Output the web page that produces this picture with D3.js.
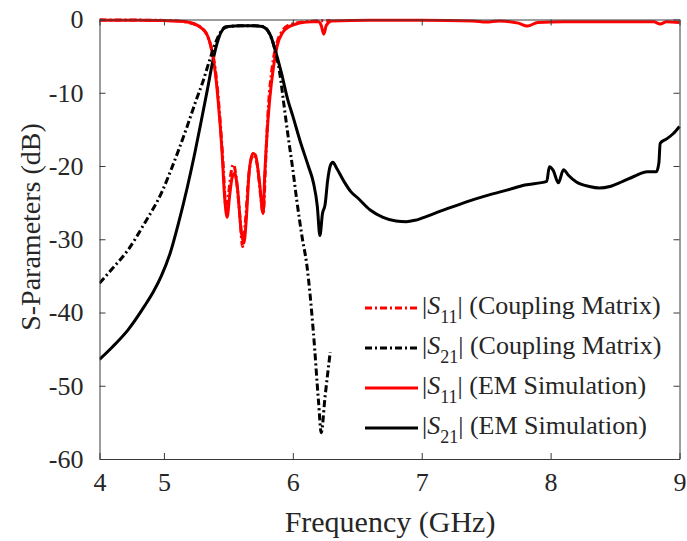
<!DOCTYPE html>
<html>
<head>
<meta charset="utf-8">
<script src="https://cdn.jsdelivr.net/npm/d3@7"></script>
<style>
  html, body { margin: 0; padding: 0; background: #fff; }
  svg text { font-family: "Times New Roman", "Liberation Serif", Tinos, "DejaVu Serif", serif; fill: #262626; }
</style>
</head>
<body>
<svg id="chart" width="687" height="541"></svg>
<script>
// ---- Data (frequency in GHz, magnitude in dB) ----
const emS21Freq = [4.5, 4.6, 4.72, 4.85, 4.92, 4.98, 5.05, 5.11, 5.18, 5.24, 5.3, 5.34, 5.38, 5.42, 5.46, 5.5, 5.6, 5.7, 5.76, 5.8, 5.83, 5.86, 5.91, 5.96, 6.0, 6.06, 6.12, 6.16, 6.19, 6.21, 6.23, 6.25, 6.27, 6.29, 6.31, 6.34, 6.4, 6.45, 6.5, 6.6, 6.7, 6.8, 6.88, 6.95, 7.05, 7.14, 7.3, 7.4, 7.55, 7.66, 7.8, 7.97, 7.99, 8.02, 8.06, 8.1, 8.14, 8.2, 8.3, 8.38, 8.46, 8.56, 8.65, 8.75, 8.82, 8.84, 8.85, 8.9, 8.95, 9.0];
const emS21dB   = [-46.4, -44.7, -42.4, -39.1, -37.1, -35.0, -31.8, -28.0, -23.0, -18.2, -12.9, -9.3, -5.6, -2.8, -1.3, -0.95, -0.85, -0.85, -0.95, -1.4, -2.3, -4.0, -7.2, -10.9, -13.2, -16.8, -20.0, -22.3, -25.5, -29.5, -26.5, -25.3, -22.0, -20.0, -19.5, -20.3, -22.2, -23.5, -24.3, -26.0, -27.0, -27.5, -27.6, -27.4, -26.8, -26.2, -25.2, -24.6, -23.8, -23.3, -22.6, -22.1, -20.1, -20.6, -22.3, -20.5, -21.3, -22.2, -22.8, -23.0, -22.8, -22.1, -21.4, -20.8, -20.8, -19.6, -16.9, -16.3, -15.6, -14.6];

const cmS21Freq = [4.5, 4.6, 4.72, 4.85, 4.98, 5.06, 5.11, 5.18, 5.25, 5.3, 5.35, 5.4, 5.44, 5.48, 5.6, 5.7, 5.78, 5.82, 5.86, 5.9, 5.93, 5.96, 6.0, 6.03, 6.07, 6.11, 6.16, 6.2, 6.22, 6.25, 6.29];
const cmS21dB   = [-36.0, -34.0, -31.5, -27.8, -23.7, -20.3, -18.0, -14.6, -11.0, -8.6, -5.8, -3.2, -1.7, -1.0, -0.85, -0.85, -1.0, -2.0, -4.0, -7.5, -11.5, -15.5, -20.5, -24.6, -29.5, -33.7, -42.8, -52.3, -56.4, -51.5, -45.4];

const emS11Freq = [4.5, 4.8, 5.0, 5.1, 5.2, 5.26, 5.3, 5.33, 5.36, 5.38, 5.4, 5.42, 5.45, 5.47, 5.49, 5.51, 5.53, 5.55, 5.57, 5.6, 5.62, 5.64, 5.66, 5.69, 5.71, 5.74, 5.77, 5.78, 5.8, 5.82, 5.85, 5.88, 5.92, 5.97, 6.05, 6.15, 6.2, 6.22, 6.24, 6.26, 6.3, 6.6, 7.0, 7.4, 7.5, 7.6, 7.75, 7.82, 7.9, 8.1, 8.5, 8.8, 8.85, 8.9, 9.0];
const emS11dB   = [-0.1, -0.1, -0.15, -0.2, -0.4, -0.8, -1.3, -1.9, -3.4, -5.1, -7.5, -11.0, -17.8, -24.0, -27.0, -24.0, -21.5, -21.0, -23.0, -29.0, -30.5, -27.0, -21.0, -18.3, -18.5, -22.0, -26.5, -22.0, -15.5, -11.0, -6.5, -3.5, -1.8, -1.0, -0.5, -0.3, -0.3, -0.8, -2.0, -0.8, -0.2, -0.1, -0.1, -0.2, -0.35, -0.2, -0.5, -0.9, -0.4, -0.3, -0.3, -0.3, -0.6, -0.3, -0.4];

const cmS11Freq = [4.5, 4.8, 5.0, 5.1, 5.2, 5.28, 5.33, 5.37, 5.4, 5.43, 5.46, 5.48, 5.5, 5.52, 5.54, 5.56, 5.59, 5.61, 5.63, 5.66, 5.69, 5.72, 5.75, 5.77, 5.79, 5.81, 5.84, 5.88, 5.92, 5.98, 6.1, 6.2, 6.29];
const cmS11dB   = [-0.05, -0.08, -0.12, -0.2, -0.45, -1.0, -2.0, -4.0, -7.0, -12.5, -20.0, -25.5, -24.0, -21.0, -19.8, -21.5, -27.0, -31.0, -28.0, -21.0, -18.5, -19.5, -24.0, -26.5, -19.0, -12.0, -6.5, -3.0, -1.5, -0.7, -0.3, -0.2, -0.15];

const xTickValues = [4.5, 5, 6, 7, 8, 9];
const xTickLabels = ["4", "5", "6", "7", "8", "9"];
const yTickValues = [0, -10, -20, -30, -40, -50, -60];
const yTickLabels = ["0", "-10", "-20", "-30", "-40", "-50", "-60"];

const legendNames = ["(Coupling Matrix)", "(Coupling Matrix)", "(EM Simulation)", "(EM Simulation)"];
const legendSubs  = ["11", "21", "11", "21"];
const legendColors = ["#ff0000", "#000000", "#ff0000", "#000000"];
const legendDashed = [true, true, false, false];

// ---- Layout ----
const FONT = '"Times New Roman", "Liberation Serif", Tinos, "DejaVu Serif", serif';
const svg = d3.select("#chart");
const L = 99.5, R = 679.5, T = 19.5, B = 459;
const x = d3.scaleLinear().domain([4.5, 9]).range([L, R]);
const y = d3.scaleLinear().domain([-60, 0]).range([B, T]);
const axisColor = "#3a3a3a";
const dash = "7,3,2,3";

const g = svg.append("g");

svg.append("defs").append("clipPath").attr("id", "clip")
  .append("rect").attr("x", L).attr("y", T - 3).attr("width", R - L + 3).attr("height", B - T + 3);

function series(fr, db) { return fr.map((f, i) => [f, db[i]]); }
const line = d3.line().x(d => x(d[0])).y(d => y(d[1])).curve(d3.curveMonotoneX);

const plot = g.append("g").attr("clip-path", "url(#clip)");
const curves = [
  { d: series(emS11Freq, emS11dB), c: "#ff0000", dashed: false },
  { d: series(emS21Freq, emS21dB), c: "#000000", dashed: false },
  { d: series(cmS11Freq, cmS11dB), c: "#ff0000", dashed: true },
  { d: series(cmS21Freq, cmS21dB), c: "#000000", dashed: true }
];
curves.forEach(cv => {
  plot.append("path").datum(cv.d)
    .attr("d", line)
    .attr("fill", "none")
    .attr("stroke", cv.c)
    .attr("stroke-width", 3)
    .attr("stroke-linejoin", "round")
    .attr("stroke-dasharray", cv.dashed ? dash : null);
});

// Axes
const tickLen = 6;
const xAxisB = d3.axisBottom(x).tickValues(xTickValues).tickSizeInner(-tickLen).tickSizeOuter(0)
  .tickFormat((d, i) => xTickLabels[i]).tickPadding(14);
const xAxisT = d3.axisTop(x).tickValues(xTickValues).tickSizeInner(-tickLen).tickSizeOuter(0).tickFormat("");
const yAxisL = d3.axisLeft(y).tickValues(yTickValues).tickSizeInner(-tickLen).tickSizeOuter(0)
  .tickFormat((d, i) => yTickLabels[i]).tickPadding(16);
const yAxisR = d3.axisRight(y).tickValues(yTickValues).tickSizeInner(-tickLen).tickSizeOuter(0).tickFormat("");

function styleAxis(sel) {
  sel.attr("font-family", null).attr("font-size", null);
  sel.select(".domain").attr("stroke", axisColor).attr("stroke-width", 1);
  sel.selectAll(".tick line").attr("stroke", axisColor).attr("stroke-width", 1);
  sel.selectAll(".tick text").attr("fill", "#262626")
    .style("font-family", FONT).style("font-size", "26px");
}
styleAxis(g.append("g").attr("transform", `translate(0,${B})`).call(xAxisB));
styleAxis(g.append("g").attr("transform", `translate(0,${T})`).call(xAxisT));
styleAxis(g.append("g").attr("transform", `translate(${L},0)`).call(yAxisL));
styleAxis(g.append("g").attr("transform", `translate(${R},0)`).call(yAxisR));

// Axis titles
g.append("text").attr("x", 390).attr("y", 532).attr("text-anchor", "middle")
  .style("font-family", FONT).style("font-size", "30px").text("Frequency (GHz)");
g.append("text").attr("transform", "translate(40,227) rotate(-90)").attr("text-anchor", "middle")
  .style("font-family", FONT).style("font-size", "28px").text("S-Parameters (dB)");

// Legend
const lgX0 = 365, lgX1 = 418, lgY0 = 308, lgDy = 40;
legendNames.forEach((name, i) => {
  const yy = lgY0 + i * lgDy;
  g.append("line").attr("x1", lgX0).attr("x2", lgX1).attr("y1", yy).attr("y2", yy)
    .attr("stroke", legendColors[i]).attr("stroke-width", 3)
    .attr("stroke-dasharray", legendDashed[i] ? dash : null);
  const t = g.append("text").attr("x", lgX1 + 4).attr("y", yy + 6)
    .style("font-family", FONT).style("font-size", "26px");
  t.append("tspan").text("|");
  t.append("tspan").style("font-style", "italic").text("S");
  t.append("tspan").attr("dy", 9).style("font-size", "18px").text(legendSubs[i]);
  t.append("tspan").attr("dy", -9).text("| " + name);
});
</script>
</body>
</html>
